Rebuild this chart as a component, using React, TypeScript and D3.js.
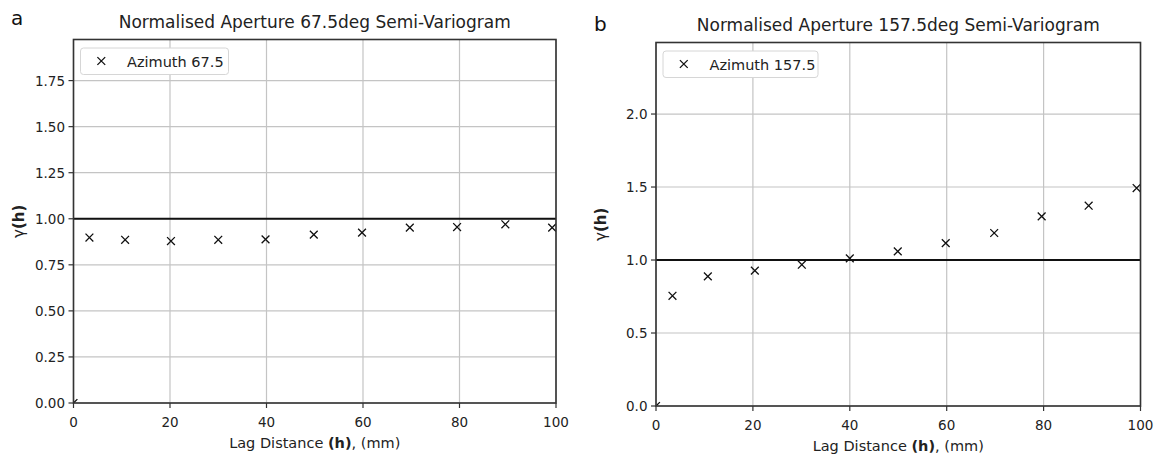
import React from "react";
import * as d3 from "d3";

const lagA = [0, 3.3, 10.7, 20.2, 30.0, 39.8, 49.8, 59.8, 69.7, 79.5, 89.5, 99.2];
const gammaA = [0, 0.898, 0.886, 0.879, 0.886, 0.888, 0.914, 0.925, 0.952, 0.955, 0.97, 0.952];
const lagB = [0, 3.4, 10.7, 20.4, 30.1, 40.0, 49.9, 59.8, 69.8, 79.6, 89.3, 99.2];
const gammaB = [0, 0.755, 0.888, 0.927, 0.968, 1.011, 1.059, 1.116, 1.185, 1.299, 1.372, 1.493];
const xTicks = [0, 20, 40, 60, 80, 100];
const yTicksA = [0, 0.25, 0.5, 0.75, 1.0, 1.25, 1.5, 1.75];
const yTicksB = [0, 0.5, 1.0, 1.5, 2.0];

const FONT = "DejaVu Sans, sans-serif";

type PanelProps = {
  id: string;
  letter: string;
  title: string;
  legend: string;
  legendW: number;
  xs: number[];
  ys: number[];
  yTicks: number[];
  yFmt: (v: number) => string;
  yMax: number;
  left: number;
  right: number;
  top: number;
  bottom: number;
  letterX: number;
  letterY: number;
  titleY: number;
};

function xMark(cx: number, cy: number, m: number) {
  return `M${cx - m},${cy - m}L${cx + m},${cy + m}M${cx - m},${cy + m}L${cx + m},${cy - m}`;
}

function Panel(p: PanelProps) {
  const x = d3.scaleLinear().domain([0, 100]).range([p.left, p.right]);
  const y = d3.scaleLinear().domain([0, p.yMax]).range([p.bottom, p.top]);
  const cx = (p.left + p.right) / 2;
  const cy = (p.top + p.bottom) / 2;
  const m = 3.9;
  const clipId = "clip-" + p.id;
  return (
    <g>
      <defs>
        <clipPath id={clipId}>
          <rect x={p.left} y={p.top} width={p.right - p.left} height={p.bottom - p.top} />
        </clipPath>
      </defs>
      <text x={p.letterX} y={p.letterY} fontSize={20} fontFamily={FONT} fill="#111">{p.letter}</text>
      <text x={cx} y={p.titleY} fontSize={17} fontFamily={FONT} textAnchor="middle" fill="#222">{p.title}</text>
      {xTicks.map((t) => (
        <line key={"gx" + t} x1={x(t)} x2={x(t)} y1={p.top} y2={p.bottom} stroke="#c4c4c4" strokeWidth={1.2} />
      ))}
      {p.yTicks.map((t) => (
        <line key={"gy" + t} x1={p.left} x2={p.right} y1={y(t)} y2={y(t)} stroke="#c4c4c4" strokeWidth={1.2} />
      ))}
      <line x1={p.left} x2={p.right} y1={y(1)} y2={y(1)} stroke="#111" strokeWidth={2} />
      <g clipPath={`url(#${clipId})`}>
        {p.xs.map((v, i) => (
          <path key={"m" + i} d={xMark(x(v), y(p.ys[i]), m)} stroke="#111" strokeWidth={1.3} fill="none" />
        ))}
      </g>
      <rect x={p.left} y={p.top} width={p.right - p.left} height={p.bottom - p.top} fill="none" stroke="#333" strokeWidth={1.6} />
      {xTicks.map((t) => (
        <g key={"tx" + t}>
          <line x1={x(t)} x2={x(t)} y1={p.bottom} y2={p.bottom + 5} stroke="#333" strokeWidth={1.2} />
          <text x={x(t)} y={p.bottom + 23.5} fontSize={13.5} fontFamily={FONT} textAnchor="middle" fill="#222">{t}</text>
        </g>
      ))}
      {p.yTicks.map((t) => (
        <g key={"ty" + t}>
          <line x1={p.left - 5} x2={p.left} y1={y(t)} y2={y(t)} stroke="#333" strokeWidth={1.2} />
          <text x={p.left - 8.5} y={y(t) + 5} fontSize={13.5} fontFamily={FONT} textAnchor="end" fill="#222">{p.yFmt(t)}</text>
        </g>
      ))}
      <text x={cx} y={p.bottom + 45} fontSize={14.5} fontFamily={FONT} textAnchor="middle" fill="#222">
        Lag Distance <tspan fontWeight="bold">(h)</tspan>, (mm)
      </text>
      <text
        transform={`translate(${p.left - 55},${cy}) rotate(-90)`}
        fontSize={15}
        fontFamily={FONT}
        textAnchor="middle"
        dominantBaseline="central"
        fill="#222"
      >
        γ<tspan fontWeight="bold">(h)</tspan>
      </text>
      <rect x={p.left + 7} y={p.top + 8.5} width={p.legendW} height={26.5} rx={3} fill="#fff" stroke="#d6d6d6" strokeWidth={1} />
      <path d={xMark(p.left + 27.8, p.top + 21.5, m)} stroke="#111" strokeWidth={1.3} fill="none" />
      <text x={p.left + 53.5} y={p.top + 27} fontSize={14.5} fontFamily={FONT} fill="#222">{p.legend}</text>
    </g>
  );
}

export default function App() {
  return (
    <svg width={1157} height={462} style={{ position: "absolute", left: 0, top: 0, background: "#fff" }}>
      <rect width={1157} height={462} fill="#fff" />
      <Panel
        id="a"
        letter="a"
        title="Normalised Aperture 67.5deg Semi-Variogram"
        legend="Azimuth 67.5"
        legendW={148}
        xs={lagA}
        ys={gammaA}
        yTicks={yTicksA}
        yFmt={(v) => v.toFixed(2)}
        yMax={1.973}
        left={73.5}
        right={556}
        top={39.5}
        bottom={403}
        letterX={11}
        letterY={25}
        titleY={28}
      />
      <Panel
        id="b"
        letter="b"
        title="Normalised Aperture 157.5deg Semi-Variogram"
        legend="Azimuth 157.5"
        legendW={155}
        xs={lagB}
        ys={gammaB}
        yTicks={yTicksB}
        yFmt={(v) => v.toFixed(1)}
        yMax={2.49}
        left={656}
        right={1140.5}
        top={42.5}
        bottom={406}
        letterX={594}
        letterY={31}
        titleY={31}
      />
    </svg>
  );
}
